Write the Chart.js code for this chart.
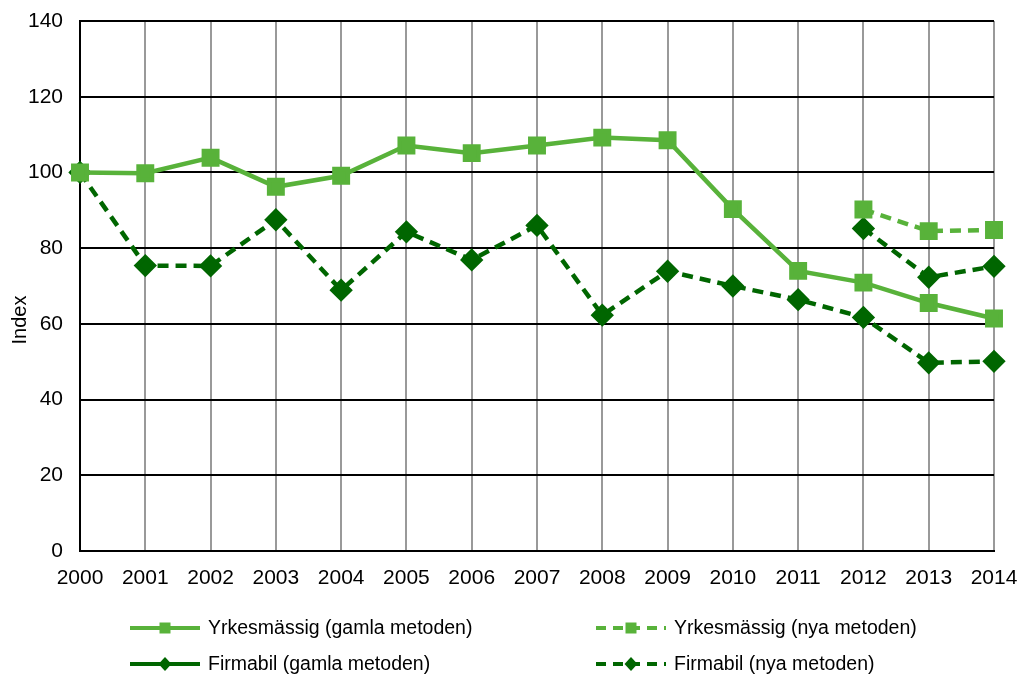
<!DOCTYPE html>
<html>
<head>
<meta charset="utf-8">
<script src="https://cdn.jsdelivr.net/npm/chart.js@4.4.1/dist/chart.umd.min.js"></script>
<style>
  body { margin: 0; background: #fff; }
  canvas { display: block; }
</style>
</head>
<body>
<canvas id="indexChart" width="1021" height="677"></canvas>
<script>
const years = ['2000', '2001', '2002', '2003', '2004', '2005', '2006', '2007',
               '2008', '2009', '2010', '2011', '2012', '2013', '2014'];

const yrkesGamla = [100, 99.8, 103.9, 96.2, 99.1, 107.1, 105.1, 107.1, 109.2, 108.5, 90.3, 74.0, 70.9, 65.5, 61.4];
const yrkesNya   = [null, null, null, null, null, null, null, null, null, null, null, null, 90.2, 84.5, 84.8];
const firmaGamla = [100, 75.4, 75.3, 87.5, 68.9, 84.3, 76.9, 86.0, 62.3, 73.9, 70.0, 66.4, 61.7, 49.7, 50.1];
const firmaNya   = [null, null, null, null, null, null, null, null, null, null, null, null, 85.2, 72.3, 75.2];

const yTicks = [0, 20, 40, 60, 80, 100, 120, 140];
const yTitle = 'Index';

const lightGreen = '#58B23A';
const darkGreen = '#006600';
const FONT = 'Liberation Sans, Arial, sans-serif';

// legend in two columns under the plot + the y title, placed like the original
const gridLegend = {
    id: 'gridLegend',
    afterDraw(chart) {
        const ctx = chart.ctx;
        const cols = [130, 596];
        const rows = [628, 664];
        chart.data.datasets.forEach((ds, i) => {
            const x = cols[i % 2];
            const y = rows[Math.floor(i / 2)];
            ctx.save();
            ctx.strokeStyle = ds.borderColor;
            ctx.lineWidth = 4;
            ctx.setLineDash(ds.legendDash || []);
            ctx.beginPath();
            ctx.moveTo(x, y);
            ctx.lineTo(x + 70, y);
            ctx.stroke();
            ctx.setLineDash([]);
            ctx.fillStyle = ds.borderColor;
            const cx = x + 35;
            ctx.beginPath();
            if (ds.pointStyle === 'rect') {
                ctx.rect(cx - 5.5, y - 5.5, 11, 11);
            } else {
                ctx.moveTo(cx, y - 7);
                ctx.lineTo(cx + 6.5, y);
                ctx.lineTo(cx, y + 7);
                ctx.lineTo(cx - 6.5, y);
                ctx.closePath();
            }
            ctx.fill();
            ctx.fillStyle = '#000';
            ctx.font = '19.5px ' + FONT;
            ctx.textBaseline = 'middle';
            ctx.textAlign = 'left';
            ctx.fillText(ds.label, x + 78, y + 1);
            ctx.restore();
        });

        ctx.save();
        ctx.translate(20, 320);
        ctx.rotate(-Math.PI / 2);
        ctx.fillStyle = '#000';
        ctx.font = '20px ' + FONT;
        ctx.textAlign = 'center';
        ctx.textBaseline = 'middle';
        ctx.fillText(yTitle, 0, 0);
        ctx.restore();
    }
};

const ctx = document.getElementById('indexChart').getContext('2d');
new Chart(ctx, {
    type: 'line',
    data: {
        labels: years,
        datasets: [{
            label: 'Yrkesmässig (gamla metoden)',
            data: yrkesGamla,
            borderColor: lightGreen,
            backgroundColor: lightGreen,
            borderWidth: 4.5,
            pointStyle: 'rect',
            pointRadius: 9.5,
            legendDash: []
        }, {
            label: 'Yrkesmässig (nya metoden)',
            data: yrkesNya,
            borderColor: lightGreen,
            backgroundColor: lightGreen,
            borderWidth: 4.5,
            borderDash: [11, 7],
            pointStyle: 'rect',
            pointRadius: 9.5,
            legendDash: [10, 7]
        }, {
            label: 'Firmabil (gamla metoden)',
            data: firmaGamla,
            borderColor: darkGreen,
            backgroundColor: darkGreen,
            borderWidth: 4.5,
            borderDash: [11, 7],
            pointStyle: 'rectRot',
            pointRadius: 8.5,
            legendDash: []
        }, {
            label: 'Firmabil (nya metoden)',
            data: firmaNya,
            borderColor: darkGreen,
            backgroundColor: darkGreen,
            borderWidth: 4.5,
            borderDash: [11, 7],
            pointStyle: 'rectRot',
            pointRadius: 8.5,
            legendDash: [10, 7]
        }]
    },
    options: {
        responsive: false,
        animation: false,
        spanGaps: false,
        layout: { padding: { top: 21, right: 27, left: 0, bottom: 0 } },
        plugins: {
            legend: { display: false },
            tooltip: { enabled: false }
        },
        elements: { line: { tension: 0 }, point: { borderWidth: 0 } },
        scales: {
            x: {
                offset: false,
                grid: { color: '#999', lineWidth: 2, drawTicks: false },
                border: { color: '#000', width: 2 },
                ticks: { color: '#000', font: { family: FONT, size: 21 }, padding: 15, maxRotation: 0, autoSkip: false },
                afterFit(scale) {
                    scale.height = 126;
                    scale.paddingLeft = 0;
                    scale.paddingRight = 0;
                }
            },
            y: {
                min: 0,
                max: 140,
                afterBuildTicks(scale) { scale.ticks = yTicks.map(v => ({ value: v })); },
                grid: { color: '#000', lineWidth: 2, drawTicks: false },
                border: { color: '#000', width: 2 },
                ticks: { color: '#000', font: { family: FONT, size: 21 }, padding: 17 },
                afterFit(scale) {
                    scale.width = 80;
                    scale.paddingTop = 0;
                    scale.paddingBottom = 0;
                }
            }
        }
    },
    plugins: [gridLegend]
});
</script>
</body>
</html>
